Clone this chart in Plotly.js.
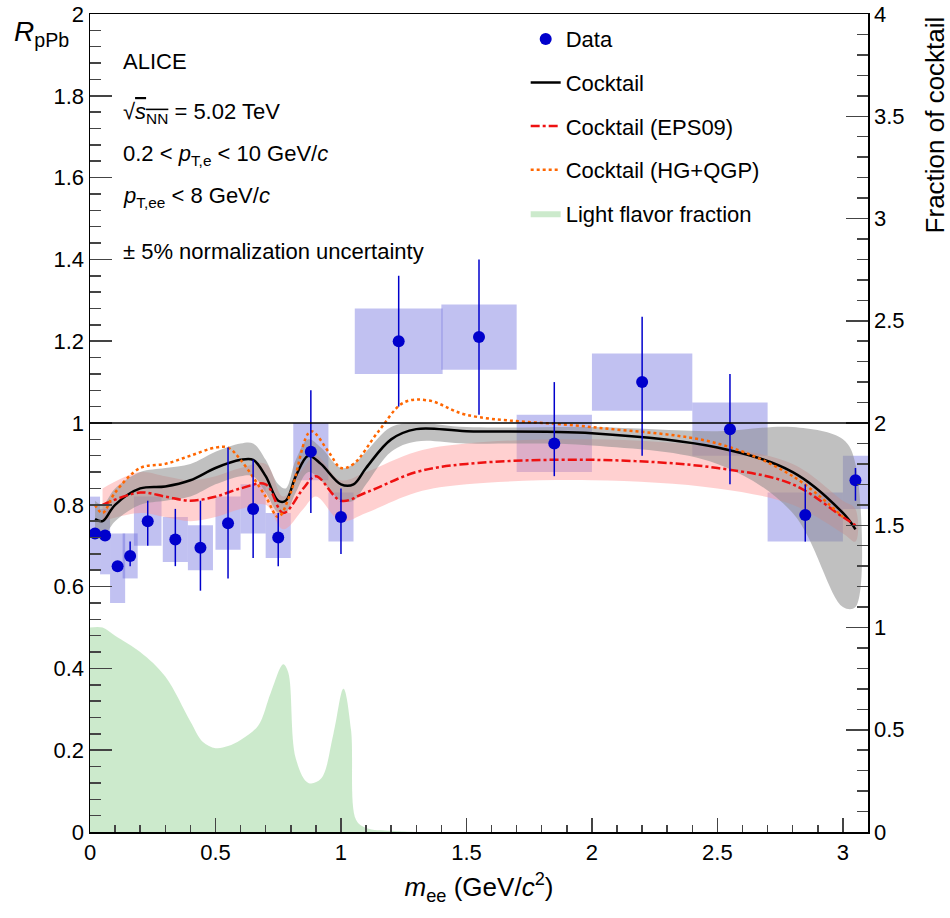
<!DOCTYPE html>
<html>
<head>
<meta charset="utf-8">
<script src="https://cdn.plot.ly/plotly-3.0.1.min.js"></script>
<style>body{margin:0}#chart{width:950px;height:918px}</style>
</head>
<body>
<div id="chart"></div>
<script>
// Data points
const dataX = [0.02, 0.06, 0.11, 0.16, 0.23, 0.34, 0.44, 0.55, 0.65, 0.75, 0.88, 1.0, 1.23, 1.55, 1.85, 2.2, 2.55, 2.85, 3.05];
const dataY = [0.73, 0.725, 0.65, 0.675, 0.76, 0.715, 0.695, 0.755, 0.79, 0.72, 0.93, 0.77, 1.2, 1.21, 0.95, 1.1, 0.985, 0.775, 0.86];
const statLo = [0.73, 0.725, 0.64, 0.65, 0.70, 0.65, 0.59, 0.62, 0.67, 0.65, 0.78, 0.68, 1.04, 1.02, 0.87, 0.92, 0.85, 0.71, 0.81];
const statHi = [0.73, 0.725, 0.66, 0.71, 0.81, 0.79, 0.81, 0.94, 0.91, 0.78, 1.08, 0.84, 1.36, 1.40, 1.10, 1.26, 1.12, 0.85, 0.89];
const sysLo = [0.64, 0.63, 0.56, 0.62, 0.70, 0.66, 0.64, 0.69, 0.73, 0.67, 0.86, 0.71, 1.12, 1.13, 0.88, 1.03, 0.92, 0.71, 0.79];
const sysHi = [0.82, 0.79, 0.73, 0.73, 0.82, 0.77, 0.75, 0.82, 0.85, 0.78, 1.00, 0.83, 1.28, 1.29, 1.02, 1.17, 1.05, 0.83, 0.92];
const sysW = [0.04, 0.04, 0.06, 0.06, 0.11, 0.10, 0.10, 0.10, 0.10, 0.10, 0.14, 0.10, 0.35, 0.30, 0.30, 0.40, 0.30, 0.30, 0.10];

// Cocktail
const cockX = [0.02, 0.05, 0.1, 0.2, 0.3, 0.4, 0.5, 0.6, 0.65, 0.7, 0.75, 0.78, 0.82, 0.87, 0.92, 1.0, 1.05, 1.1, 1.2, 1.3, 1.5, 2.0, 2.5, 2.8, 3.0, 3.05];
const cockY = [0.765, 0.76, 0.8, 0.84, 0.845, 0.86, 0.89, 0.91, 0.91, 0.87, 0.81, 0.81, 0.87, 0.92, 0.9, 0.85, 0.85, 0.89, 0.96, 0.985, 0.98, 0.975, 0.94, 0.88, 0.78, 0.74];
const cockLo = [0.72, 0.72, 0.76, 0.80, 0.81, 0.82, 0.85, 0.87, 0.87, 0.83, 0.78, 0.78, 0.83, 0.88, 0.86, 0.81, 0.81, 0.85, 0.93, 0.955, 0.95, 0.945, 0.90, 0.78, 0.55, 0.55];
const cockHi = [0.81, 0.80, 0.84, 0.88, 0.89, 0.90, 0.93, 0.95, 0.95, 0.91, 0.85, 0.84, 0.91, 0.96, 0.94, 0.89, 0.90, 0.93, 0.99, 1.0, 0.99, 0.99, 0.98, 0.99, 0.96, 0.90];

// Cocktail (EPS09)
const epsX = [0.05, 0.2, 0.3, 0.4, 0.5, 0.6, 0.7, 0.77, 0.85, 0.9, 1.0, 1.1, 1.3, 1.5, 2.0, 2.5, 2.8, 3.0, 3.05];
const epsY = [0.8, 0.83, 0.82, 0.81, 0.82, 0.84, 0.85, 0.78, 0.84, 0.87, 0.81, 0.83, 0.88, 0.9, 0.91, 0.89, 0.85, 0.77, 0.75];
const epsLo = [0.76, 0.78, 0.77, 0.76, 0.77, 0.79, 0.80, 0.74, 0.79, 0.82, 0.76, 0.78, 0.83, 0.85, 0.86, 0.84, 0.80, 0.73, 0.71];
const epsHi = [0.84, 0.88, 0.87, 0.86, 0.87, 0.89, 0.90, 0.82, 0.89, 0.92, 0.86, 0.88, 0.93, 0.95, 0.96, 0.94, 0.90, 0.81, 0.79];

// Cocktail (HG+QGP)
const hgX = [0.02, 0.05, 0.1, 0.2, 0.3, 0.4, 0.5, 0.55, 0.6, 0.7, 0.75, 0.8, 0.88, 0.95, 1.0, 1.05, 1.15, 1.25, 1.35, 1.5, 2.0, 2.5, 2.8, 3.0];
const hgY = [0.8, 0.78, 0.83, 0.89, 0.9, 0.92, 0.94, 0.94, 0.91, 0.82, 0.77, 0.83, 0.98, 0.93, 0.89, 0.9, 0.98, 1.05, 1.055, 1.02, 0.99, 0.95, 0.87, 0.77];

// Light flavor fraction (right axis)
const lfX = [0, 0.05, 0.1, 0.2, 0.3, 0.4, 0.45, 0.5, 0.55, 0.6, 0.67, 0.72, 0.77, 0.79, 0.82, 0.87, 0.92, 0.97, 1.01, 1.04, 1.06, 1.1, 1.2, 1.3, 3.1];
const lfY = [1.0, 1.0, 0.96, 0.88, 0.76, 0.54, 0.44, 0.41, 0.42, 0.45, 0.52, 0.68, 0.82, 0.78, 0.36, 0.24, 0.26, 0.48, 0.70, 0.50, 0.06, 0.02, 0.006, 0, 0];

const FONT = "Liberation Sans, Arial, sans-serif";

const traces = [
  {x: lfX, y: lfY, yaxis: "y2", type: "scatter", mode: "lines", fill: "tozeroy",
   line: {width: 0, shape: "spline"}, fillcolor: "rgba(170,220,170,0.6)", name: "Light flavor fraction", legendrank: 5, legendgroup: "e"},
  {x: epsX.concat(epsX.slice().reverse()), y: epsHi.concat(epsLo.slice().reverse()), type: "scatter", mode: "lines",
   fill: "toself", fillcolor: "rgba(255,150,150,0.45)", line: {width: 0, shape: "spline"}, showlegend: false, hoverinfo: "skip"},
  {x: cockX.concat(cockX.slice().reverse()), y: cockHi.concat(cockLo.slice().reverse()), type: "scatter", mode: "lines",
   fill: "toself", fillcolor: "rgba(140,140,140,0.55)", line: {width: 0, shape: "spline"}, showlegend: false, hoverinfo: "skip"},
  {x: dataX, y: sysHi.map((h, i) => h - sysLo[i]), base: sysLo, width: sysW, type: "bar",
   marker: {color: "rgba(100,100,220,0.4)", line: {width: 0}}, showlegend: false, hoverinfo: "skip"},
  {x: cockX, y: cockY, type: "scatter", mode: "lines", line: {color: "black", width: 2.5, shape: "spline"}, name: "Cocktail", legendrank: 2, legendgroup: "b"},
  {x: epsX, y: epsY, type: "scatter", mode: "lines", line: {color: "#ee1111", width: 2.5, dash: "dashdot", shape: "spline"}, name: "Cocktail (EPS09)", legendrank: 3, legendgroup: "c"},
  {x: hgX, y: hgY, type: "scatter", mode: "lines", line: {color: "#ff6600", width: 2.5, dash: "dot", shape: "spline"}, name: "Cocktail (HG+QGP)", legendrank: 4, legendgroup: "d"},
  {x: dataX, y: dataY, type: "scatter", mode: "markers", marker: {color: "#0000cc", size: 12},
   error_y: {type: "data", symmetric: false, array: statHi.map((h, i) => h - dataY[i]),
     arrayminus: dataY.map((v, i) => v - statLo[i]), color: "#0000cc", thickness: 1.5, width: 0},
   name: "Data", legendrank: 1, legendgroup: "a"}
];

const layout = {
  width: 950, height: 918,
  margin: {l: 90, r: 82, t: 14, b: 86},
  paper_bgcolor: "white", plot_bgcolor: "white",
  font: {family: FONT, size: 22, color: "black"},
  barmode: "overlay",
  showlegend: true,
  legend: {x: 0.56, y: 0.995, xanchor: "left", yanchor: "top", bgcolor: "rgba(0,0,0,0)", font: {size: 22}, tracegroupgap: 12},
  xaxis: {range: [0, 3.1], ticks: "inside", ticklen: 14, tickwidth: 1.5, dtick: 0.5, showgrid: false, zeroline: false,
    showline: true, linewidth: 1.5, linecolor: "black", mirror: true, minor: {ticks: "inside", ticklen: 7, dtick: 0.1},
    tickfont: {size: 22},
    title: {text: "<i>m</i><sub>ee</sub> (GeV/<i>c</i><sup>2</sup>)", font: {size: 26}, standoff: 14}},
  yaxis: {range: [0, 2], ticks: "inside", ticklen: 22, tickwidth: 1.5, dtick: 0.2, showgrid: false, zeroline: false,
    showline: true, linewidth: 1.5, linecolor: "black", minor: {ticks: "inside", ticklen: 11, dtick: 0.04},
    tickfont: {size: 22}, tickformat: "~g"},
  yaxis2: {range: [0, 4], overlaying: "y", side: "right", ticks: "inside", ticklen: 22, tickwidth: 1.5, dtick: 0.5,
    showgrid: false, zeroline: false, showline: true, linewidth: 1.5, linecolor: "black",
    minor: {ticks: "inside", ticklen: 11, dtick: 0.1}, tickfont: {size: 22}, tickformat: "~g"},
  shapes: [{type: "line", xref: "paper", x0: 0, x1: 1, yref: "y", y0: 1, y1: 1, line: {color: "black", width: 1.5}}],
  annotations: [
    {xref: "paper", yref: "paper", x: -0.1, y: 1.0, xanchor: "left", yanchor: "top", showarrow: false,
     text: "<i>R</i><sub>pPb</sub>", font: {size: 28}},
    {xref: "paper", yref: "paper", x: 1.086, y: 1.0, xanchor: "center", yanchor: "top", showarrow: false, textangle: -90,
     text: "Fraction of cocktail", font: {size: 26}},
    {xref: "paper", yref: "paper", x: 0.04, y: 0.96, xanchor: "left", showarrow: false, text: "ALICE"},
    {xref: "paper", yref: "paper", x: 0.04, y: 0.899, xanchor: "left", showarrow: false, text: "√<span style='text-decoration:overline'><i>s</i><sub>NN</sub></span> = 5.02 TeV"},
    {xref: "paper", yref: "paper", x: 0.04, y: 0.847, xanchor: "left", showarrow: false, text: "0.2 < <i>p</i><sub>T,e</sub> < 10 GeV/<i>c</i>"},
    {xref: "paper", yref: "paper", x: 0.04, y: 0.796, xanchor: "left", showarrow: false, text: "<i>p</i><sub>T,ee</sub> < 8 GeV/<i>c</i>"},
    {xref: "paper", yref: "paper", x: 0.04, y: 0.727, xanchor: "left", showarrow: false, text: "± 5% normalization uncertainty"}
  ]
};

Plotly.newPlot("chart", traces, layout, {staticPlot: true});
</script>
</body>
</html>
